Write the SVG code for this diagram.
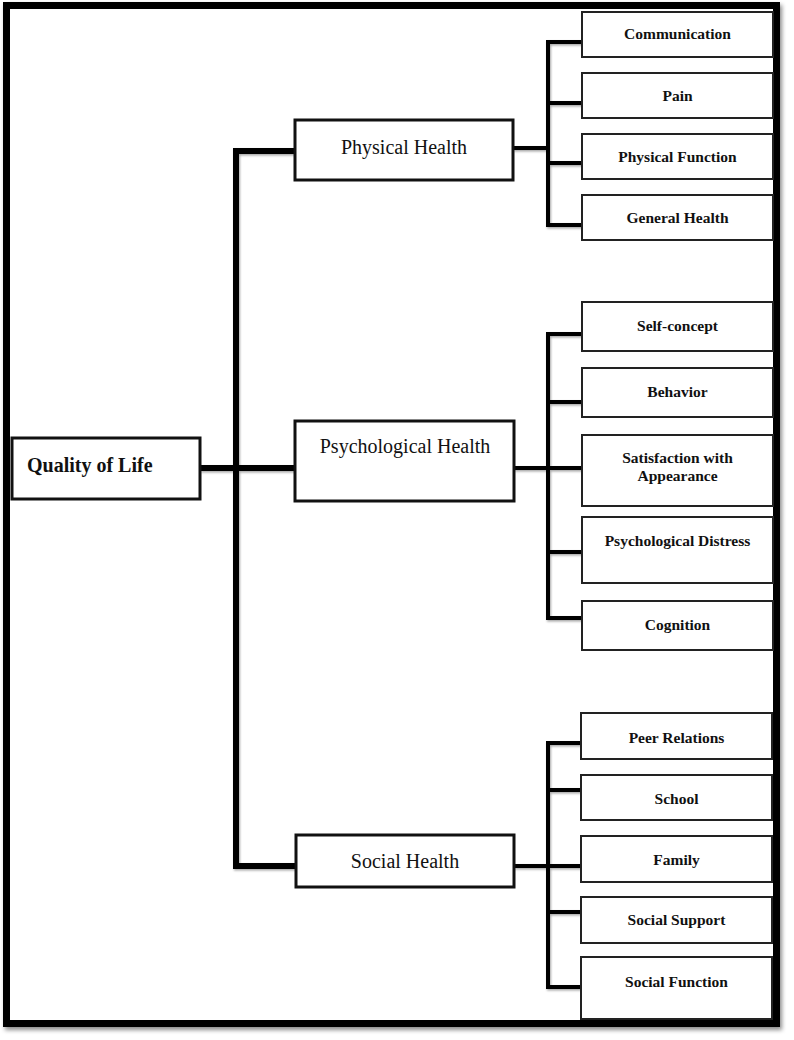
<svg xmlns="http://www.w3.org/2000/svg" width="794" height="1040" viewBox="0 0 794 1040">
<defs>
<filter id="sh" x="-5%" y="-5%" width="110%" height="110%">
<feDropShadow dx="2" dy="3" stdDeviation="2" flood-color="#000" flood-opacity="0.45"/>
</filter>
<filter id="sh2" x="-10%" y="-10%" width="120%" height="120%">
<feDropShadow dx="1" dy="1.5" stdDeviation="0.8" flood-color="#000" flood-opacity="0.35"/>
</filter>
</defs>
<style>
.main{fill:#fff;stroke:#111;stroke-width:3}
.leaf{fill:#fff;stroke:#222;stroke-width:2}
.mt{font-family:"Liberation Serif","Times New Roman",serif;font-size:20px;fill:#111;text-anchor:middle}
.lt{font-family:"Liberation Serif","Times New Roman",serif;font-size:15.5px;font-weight:bold;fill:#111;text-anchor:middle}
.trunk{fill:none;stroke:#000;stroke-width:6}
.br{fill:none;stroke:#000;stroke-width:4}
</style>
<rect x="0" y="0" width="794" height="1040" fill="#fff"/>
<rect x="6.5" y="5.5" width="770" height="1018" fill="#fff" stroke="#000" stroke-width="7" filter="url(#sh)"/>

<g id="connectors" filter="url(#sh2)">
<path class="trunk" d="M295,151 H236 V866 H296"/>
<path class="trunk" d="M200,468 H295"/>
<path class="br" d="M513,148 H548"/>
<path class="br" d="M582,42 H548 V225 H582 M548,103 H582 M548,163 H582"/>
<path class="br" d="M514,468 H582"/>
<path class="br" d="M582,334 H548 V618 H582 M548,402 H582 M548,552 H582"/>
<path class="br" d="M514,866 H582"/>
<path class="br" d="M582,743 H548 V987 H582 M548,790 H582 M548,912 H582"/>
</g>

<g id="qol"><rect class="main" x="12" y="438" width="188" height="61"/>
<text x="27" y="472" font-family="Liberation Serif, Times New Roman, serif" font-size="20" font-weight="bold" fill="#111">Quality of Life</text></g>

<g id="physical"><rect class="main" x="295" y="120" width="218" height="60"/>
<text class="mt" x="404" y="154">Physical Health</text></g>
<g id="psychological"><rect class="main" x="295" y="421" width="219" height="80"/>
<text class="mt" x="405" y="453">Psychological Health</text></g>
<g id="social"><rect class="main" x="296" y="835" width="218" height="52"/>
<text class="mt" x="405" y="868">Social Health</text></g>

<g id="communication"><rect class="leaf" x="582" y="12" width="191" height="45"/><text class="lt" x="677.5" y="39">Communication</text></g>
<g id="pain"><rect class="leaf" x="582" y="73" width="191" height="45"/><text class="lt" x="677.5" y="101">Pain</text></g>
<g id="physical-function"><rect class="leaf" x="582" y="134" width="191" height="45"/><text class="lt" x="677.5" y="162">Physical Function</text></g>
<g id="general-health"><rect class="leaf" x="582" y="195" width="191" height="45"/><text class="lt" x="677.5" y="223">General Health</text></g>

<g id="self-concept"><rect class="leaf" x="582" y="302" width="191" height="49"/><text class="lt" x="677.5" y="331">Self-concept</text></g>
<g id="behavior"><rect class="leaf" x="582" y="368" width="191" height="49"/><text class="lt" x="677.5" y="397">Behavior</text></g>
<g id="satisfaction"><rect class="leaf" x="582" y="435" width="191" height="71"/><text class="lt" x="677.5" y="463">Satisfaction with</text><text class="lt" x="677.5" y="481">Appearance</text></g>
<g id="distress"><rect class="leaf" x="582" y="517" width="191" height="66"/><text class="lt" x="677.5" y="546">Psychological Distress</text></g>
<g id="cognition"><rect class="leaf" x="582" y="601" width="191" height="49"/><text class="lt" x="677.5" y="630">Cognition</text></g>

<g id="peer"><rect class="leaf" x="581" y="713" width="191" height="46"/><text class="lt" x="676.5" y="743">Peer Relations</text></g>
<g id="school"><rect class="leaf" x="581" y="775" width="191" height="45"/><text class="lt" x="676.5" y="804">School</text></g>
<g id="family"><rect class="leaf" x="581" y="836" width="191" height="46"/><text class="lt" x="676.5" y="865">Family</text></g>
<g id="social-support"><rect class="leaf" x="581" y="897" width="191" height="46"/><text class="lt" x="676.5" y="925">Social Support</text></g>
<g id="social-function"><rect class="leaf" x="581" y="957" width="191" height="62"/><text class="lt" x="676.5" y="987">Social Function</text></g>
</svg>
